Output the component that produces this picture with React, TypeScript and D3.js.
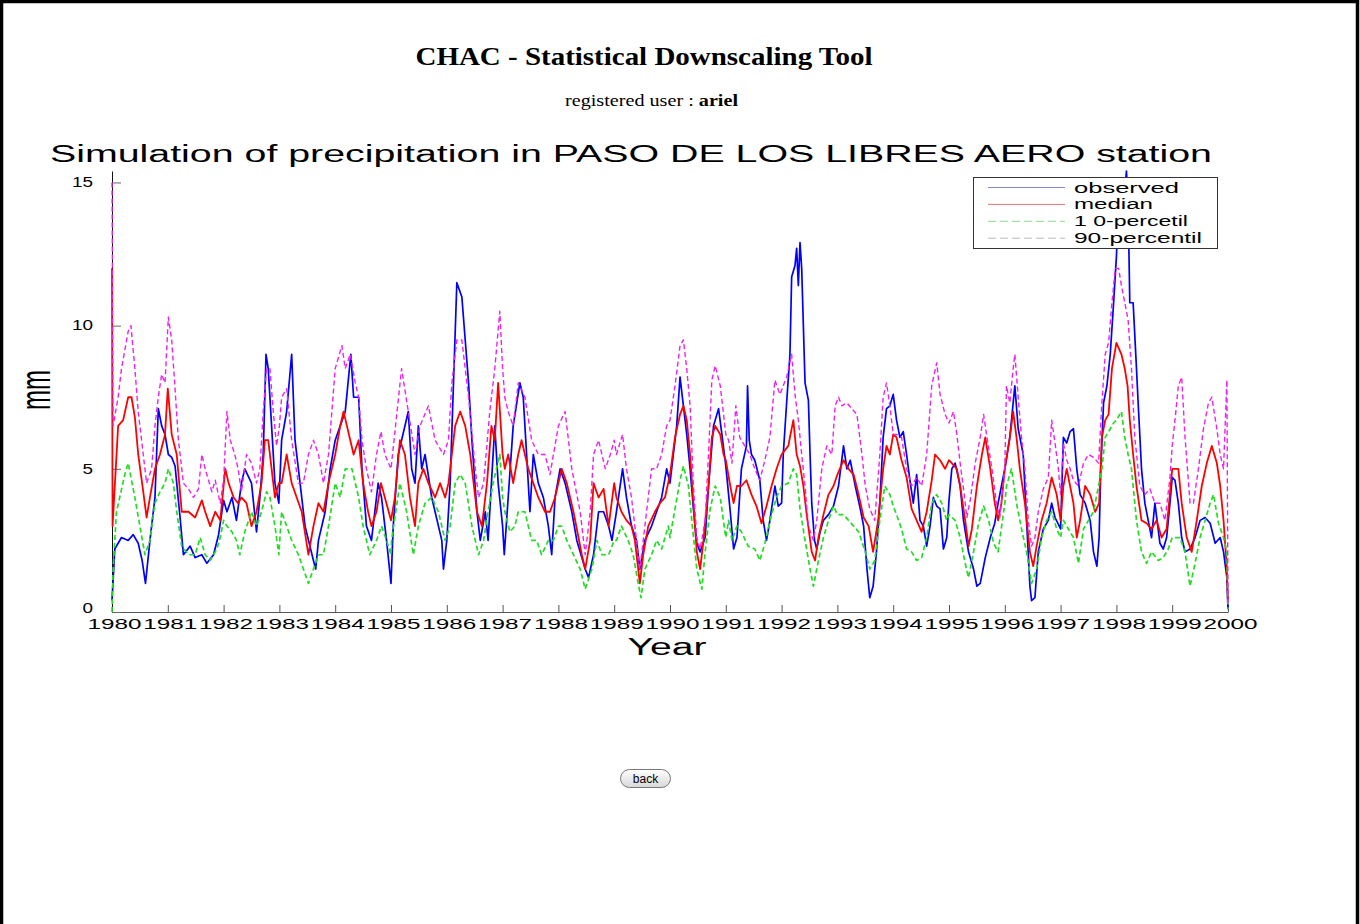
import React, { useEffect, useRef } from 'react';
import * as d3 from 'd3';

type Pt = [number, number];

// --- data: [decimal year, mm] ---
const observed: Pt[] = [
  [1980.00,0.4],[1980.05,2.2],[1980.17,2.6],[1980.29,2.5],[1980.38,2.7],[1980.47,2.4],[1980.54,1.8],[1980.60,1.0],[1980.68,2.5],[1980.77,4.0],[1980.83,7.1],[1980.89,6.5],[1980.95,6.2],
  [1981.01,5.5],[1981.07,5.4],[1981.13,5.1],[1981.22,3.3],[1981.28,2.0],[1981.40,2.3],[1981.49,1.9],[1981.61,2.0],[1981.70,1.7],[1981.82,2.0],[1981.91,2.7],
  [1982.00,3.9],[1982.06,3.5],[1982.15,4.0],[1982.23,3.2],[1982.32,4.5],[1982.38,5.0],[1982.50,4.5],[1982.59,2.8],[1982.65,4.0],[1982.71,5.5],[1982.76,9.0],[1982.80,8.5],[1982.86,6.5],[1982.92,4.5],
  [1982.99,3.8],[1983.04,6.0],[1983.13,7.0],[1983.22,9.0],[1983.28,6.0],[1983.37,4.5],[1983.46,3.0],[1983.61,1.8],[1983.65,1.5],[1983.70,2.5],[1983.82,3.5],[1983.91,5.0],
  [1984.00,6.0],[1984.09,6.5],[1984.18,7.0],[1984.28,9.0],[1984.33,7.5],[1984.42,7.5],[1984.48,5.0],[1984.56,3.0],[1984.65,2.5],[1984.77,4.5],[1984.83,4.0],[1984.92,2.5],
  [1985.00,1.0],[1985.04,3.0],[1985.13,5.5],[1985.31,7.0],[1985.37,5.0],[1985.43,4.5],[1985.49,6.5],[1985.55,5.0],[1985.61,5.5],[1985.73,4.0],[1985.79,3.5],[1985.91,2.5],[1985.94,1.5],
  [1986.00,2.5],[1986.06,4.5],[1986.12,8.0],[1986.18,11.5],[1986.27,11.0],[1986.33,9.5],[1986.39,8.0],[1986.45,6.0],[1986.54,3.5],[1986.60,2.5],[1986.69,3.5],[1986.74,2.5],[1986.80,4.5],[1986.86,6.5],[1986.92,4.5],
  [1987.00,3.0],[1987.03,2.0],[1987.10,4.0],[1987.19,6.5],[1987.31,8.0],[1987.37,7.5],[1987.43,5.5],[1987.49,3.5],[1987.55,5.5],[1987.64,4.5],[1987.73,4.0],[1987.82,3.0],[1987.88,2.0],[1987.94,4.0],
  [1988.03,5.0],[1988.12,4.5],[1988.24,3.5],[1988.33,2.5],[1988.48,1.5],[1988.54,1.2],[1988.63,2.0],[1988.72,3.5],[1988.81,3.5],[1988.90,3.0],[1988.96,2.5],
  [1989.04,3.5],[1989.15,5.0],[1989.22,4.0],[1989.31,3.0],[1989.40,2.5],[1989.46,1.5],[1989.55,2.5],[1989.67,3.0],[1989.76,3.5],[1989.85,4.0],[1989.94,5.0],
  [1990.00,4.5],[1990.06,5.5],[1990.12,6.5],[1990.18,8.2],[1990.24,7.2],[1990.30,6.2],[1990.36,5.0],[1990.42,3.6],[1990.48,2.4],[1990.54,2.1],[1990.63,2.6],[1990.69,4.4],[1990.78,6.5],[1990.87,7.1],[1990.93,6.2],
  [1991.00,5.1],[1991.08,3.5],[1991.14,2.2],[1991.20,2.6],[1991.28,5.0],[1991.37,5.8],[1991.39,7.9],[1991.42,6.0],[1991.46,5.5],[1991.52,5.3],[1991.61,4.6],[1991.67,3.2],[1991.73,2.5],[1991.79,3.2],[1991.88,4.4],[1991.94,3.7],
  [1992.00,3.8],[1992.03,5.5],[1992.09,7.3],[1992.15,9.0],[1992.18,11.7],[1992.24,12.1],[1992.27,12.7],[1992.30,11.4],[1992.33,12.9],[1992.36,12.0],[1992.39,10.0],[1992.42,8.0],[1992.48,7.4],[1992.51,5.5],[1992.54,3.8],[1992.59,2.5],[1992.63,2.2],[1992.69,2.8],[1992.75,3.2],[1992.84,3.4],[1992.93,3.7],
  [1993.02,4.4],[1993.11,5.8],[1993.17,5.0],[1993.23,5.3],[1993.32,4.4],[1993.41,3.6],[1993.47,3.0],[1993.53,1.5],[1993.58,0.5],[1993.64,0.9],[1993.70,2.1],[1993.76,3.8],[1993.82,6.1],[1993.88,7.1],[1993.94,7.2],
  [1994.00,7.6],[1994.06,6.7],[1994.12,6.1],[1994.18,6.3],[1994.24,5.5],[1994.30,4.6],[1994.36,3.8],[1994.42,4.8],[1994.48,3.2],[1994.54,3.0],[1994.60,2.3],[1994.66,3.0],[1994.72,4.0],[1994.78,3.7],[1994.84,3.6],[1994.90,2.2],[1994.96,2.6],
  [1995.00,3.9],[1995.05,5.0],[1995.11,5.2],[1995.20,4.4],[1995.26,3.2],[1995.35,2.1],[1995.44,1.5],[1995.50,0.9],[1995.56,1.0],[1995.65,1.9],[1995.74,2.6],[1995.82,3.1],[1995.88,3.8],[1995.94,4.4],
  [1996.00,5.0],[1996.09,6.1],[1996.15,7.3],[1996.18,7.9],[1996.24,6.4],[1996.33,5.5],[1996.39,3.2],[1996.45,0.9],[1996.48,0.4],[1996.54,0.5],[1996.60,2.1],[1996.69,2.9],[1996.78,3.2],[1996.84,3.8],[1996.90,3.3],
  [1997.00,2.9],[1997.05,6.1],[1997.11,5.9],[1997.17,6.3],[1997.23,6.4],[1997.29,5.0],[1997.35,4.1],[1997.44,3.8],[1997.53,3.2],[1997.59,2.1],[1997.65,1.6],[1997.69,2.6],[1997.72,5.0],[1997.77,7.3],[1997.83,7.9],[1997.89,9.0],[1997.95,10.8],
  [1998.00,12.4],[1998.04,14.3],[1998.07,13.7],[1998.12,14.1],[1998.18,15.4],[1998.21,14.3],[1998.24,10.8],[1998.30,10.8],[1998.36,8.5],[1998.39,7.3],[1998.45,5.0],[1998.51,3.8],[1998.57,3.2],[1998.63,2.6],[1998.69,3.8],[1998.78,2.4],[1998.84,2.2],[1998.90,2.6],[1998.96,3.8],
  [1999.00,4.7],[1999.05,4.6],[1999.11,3.8],[1999.17,2.6],[1999.23,2.1],[1999.32,2.2],[1999.41,2.6],[1999.50,3.2],[1999.59,3.3],[1999.68,3.1],[1999.77,2.4],[1999.86,2.6],[1999.92,2.1],[1999.98,1.2],[2000.00,0.1],
];

const median: Pt[] = [
  [1980.00,12.0],[1980.01,3.0],[1980.11,6.5],[1980.20,6.7],[1980.29,7.5],[1980.35,7.5],[1980.41,6.8],[1980.47,5.5],[1980.56,4.2],[1980.62,3.3],[1980.68,4.0],[1980.77,5.0],[1980.86,5.5],[1980.95,6.2],
  [1981.00,7.8],[1981.07,6.2],[1981.16,5.5],[1981.25,3.5],[1981.37,3.5],[1981.49,3.3],[1981.61,3.9],[1981.67,3.5],[1981.76,3.0],[1981.85,3.5],[1981.94,3.2],
  [1982.03,5.0],[1982.09,4.5],[1982.18,4.0],[1982.26,3.8],[1982.32,4.0],[1982.41,3.8],[1982.50,3.0],[1982.59,3.5],[1982.68,4.5],[1982.74,6.0],[1982.80,6.0],[1982.86,5.0],[1982.92,4.0],
  [1982.99,4.5],[1983.04,4.5],[1983.13,5.5],[1983.22,4.5],[1983.31,4.0],[1983.40,3.5],[1983.52,2.0],[1983.61,3.0],[1983.70,3.8],[1983.79,3.5],[1983.88,4.5],
  [1984.00,5.5],[1984.09,6.5],[1984.15,7.0],[1984.21,6.5],[1984.27,6.0],[1984.33,5.5],[1984.42,6.0],[1984.50,4.5],[1984.59,3.5],[1984.65,3.0],[1984.74,3.5],[1984.82,4.5],[1984.89,4.0],
  [1985.00,3.2],[1985.07,4.0],[1985.16,6.0],[1985.25,5.5],[1985.34,4.0],[1985.43,3.0],[1985.49,4.5],[1985.58,5.0],[1985.67,4.5],[1985.79,4.0],[1985.88,4.5],[1985.97,4.0],
  [1986.03,4.5],[1986.15,6.5],[1986.24,7.0],[1986.33,6.5],[1986.42,5.5],[1986.48,4.5],[1986.54,3.5],[1986.63,3.0],[1986.72,4.5],[1986.80,6.5],[1986.86,6.0],[1986.92,8.0],
  [1987.00,5.5],[1987.04,5.0],[1987.10,5.5],[1987.19,4.5],[1987.28,5.5],[1987.34,6.0],[1987.46,5.0],[1987.55,4.5],[1987.64,4.0],[1987.76,3.5],[1987.85,3.5],[1987.94,4.0],
  [1988.00,4.5],[1988.06,5.0],[1988.15,4.5],[1988.27,3.5],[1988.42,2.0],[1988.48,1.5],[1988.57,2.5],[1988.63,4.5],[1988.72,4.0],[1988.81,4.3],[1988.90,3.0],
  [1989.00,4.5],[1989.04,4.0],[1989.13,3.5],[1989.22,3.2],[1989.31,3.0],[1989.37,2.5],[1989.46,1.0],[1989.52,2.0],[1989.61,3.0],[1989.73,3.5],[1989.82,3.8],[1989.91,4.0],
  [1990.00,4.8],[1990.09,6.1],[1990.18,6.9],[1990.24,7.2],[1990.30,6.7],[1990.36,5.5],[1990.42,3.8],[1990.48,2.1],[1990.54,1.5],[1990.60,2.5],[1990.69,4.4],[1990.75,6.1],[1990.81,6.5],[1990.90,6.2],[1990.96,5.5],
  [1991.00,5.3],[1991.08,4.4],[1991.14,3.8],[1991.20,4.4],[1991.28,4.4],[1991.37,4.6],[1991.46,4.1],[1991.55,3.7],[1991.64,3.1],[1991.73,3.7],[1991.82,4.4],[1991.91,5.0],
  [1992.00,5.5],[1992.12,5.8],[1992.21,6.7],[1992.27,5.5],[1992.33,5.1],[1992.39,4.4],[1992.45,3.4],[1992.54,2.1],[1992.60,1.8],[1992.66,2.6],[1992.75,3.4],[1992.84,4.1],[1992.93,4.4],
  [1993.00,4.8],[1993.11,5.3],[1993.20,5.0],[1993.29,4.8],[1993.38,4.1],[1993.47,3.3],[1993.56,3.0],[1993.64,2.1],[1993.73,3.2],[1993.82,5.0],[1993.88,5.8],[1993.94,5.5],
  [1994.00,6.2],[1994.06,6.1],[1994.15,5.3],[1994.24,4.7],[1994.33,3.6],[1994.42,3.2],[1994.51,2.8],[1994.60,3.5],[1994.69,4.6],[1994.75,5.5],[1994.84,5.3],[1994.93,5.0],
  [1995.00,5.3],[1995.05,5.2],[1995.14,5.0],[1995.20,4.4],[1995.29,3.2],[1995.35,2.3],[1995.41,2.9],[1995.50,4.4],[1995.59,5.5],[1995.65,6.1],[1995.74,5.0],[1995.82,3.8],[1995.88,3.2],[1995.94,3.8],
  [1996.00,5.0],[1996.09,6.1],[1996.15,7.0],[1996.21,6.1],[1996.27,5.0],[1996.36,3.8],[1996.45,2.1],[1996.51,1.6],[1996.57,2.3],[1996.66,3.2],[1996.75,3.8],[1996.84,4.7],[1996.93,4.1],
  [1997.00,3.2],[1997.05,4.4],[1997.11,5.0],[1997.17,4.4],[1997.23,3.8],[1997.29,2.6],[1997.35,3.2],[1997.44,4.4],[1997.53,4.1],[1997.62,3.5],[1997.69,3.8],[1997.74,6.1],[1997.80,6.7],[1997.86,6.9],[1997.92,8.5],
  [1998.00,9.4],[1998.09,9.0],[1998.15,8.5],[1998.20,7.9],[1998.24,6.7],[1998.30,5.5],[1998.36,4.4],[1998.45,3.2],[1998.54,3.1],[1998.63,2.9],[1998.72,3.2],[1998.81,2.6],[1998.90,2.9],
  [1999.00,5.0],[1999.11,5.0],[1999.17,3.8],[1999.26,2.6],[1999.35,2.1],[1999.44,3.2],[1999.53,4.4],[1999.62,5.2],[1999.71,5.8],[1999.80,5.2],[1999.86,4.4],[1999.92,3.2],[1999.98,1.5],[2000.00,0.3],
];

const pct10: Pt[] = [
  [1980.00,0.0],[1980.02,1.5],[1980.08,3.5],[1980.23,4.8],[1980.29,5.2],[1980.41,4.0],[1980.50,3.0],[1980.59,2.0],[1980.68,2.5],[1980.77,3.8],[1980.86,4.2],[1980.95,4.5],
  [1981.01,5.0],[1981.10,4.5],[1981.16,3.5],[1981.25,2.3],[1981.37,2.0],[1981.49,2.0],[1981.58,2.6],[1981.67,2.0],[1981.76,1.8],[1981.88,2.2],[1981.94,2.6],
  [1982.00,3.2],[1982.06,3.0],[1982.15,2.8],[1982.23,2.5],[1982.29,2.0],[1982.38,2.8],[1982.50,3.5],[1982.59,3.0],[1982.68,3.5],[1982.77,4.2],[1982.83,4.0],[1982.92,3.0],
  [1982.99,2.0],[1983.04,3.5],[1983.13,3.0],[1983.22,2.5],[1983.34,2.0],[1983.52,1.0],[1983.61,1.5],[1983.70,2.0],[1983.79,2.0],[1983.88,3.0],
  [1984.00,4.5],[1984.09,4.0],[1984.18,5.0],[1984.30,5.0],[1984.42,4.0],[1984.50,3.0],[1984.62,2.0],[1984.74,2.5],[1984.83,3.0],[1984.92,2.5],
  [1985.00,2.0],[1985.01,2.5],[1985.16,4.5],[1985.28,3.5],[1985.40,2.0],[1985.49,3.0],[1985.61,3.8],[1985.73,4.0],[1985.85,3.5],[1985.97,2.5],
  [1986.06,3.0],[1986.15,4.5],[1986.24,4.8],[1986.33,4.5],[1986.45,3.0],[1986.57,2.0],[1986.66,2.5],[1986.74,3.5],[1986.83,4.5],[1986.95,5.5],
  [1987.00,4.0],[1987.04,3.5],[1987.13,2.8],[1987.22,3.0],[1987.28,3.5],[1987.40,3.5],[1987.52,2.5],[1987.61,2.5],[1987.70,2.0],[1987.82,2.5],[1987.91,2.5],
  [1988.00,3.0],[1988.06,3.0],[1988.15,2.5],[1988.27,2.0],[1988.39,1.5],[1988.48,0.8],[1988.60,1.5],[1988.69,2.5],[1988.78,2.0],[1988.90,2.0],
  [1989.00,2.5],[1989.04,2.5],[1989.13,3.0],[1989.25,2.5],[1989.34,2.0],[1989.43,1.0],[1989.48,0.5],[1989.55,1.5],[1989.67,2.0],[1989.76,2.5],[1989.85,2.2],[1989.97,3.0],
  [1990.00,2.6],[1990.09,3.6],[1990.18,4.6],[1990.24,5.1],[1990.33,4.4],[1990.39,3.2],[1990.48,1.5],[1990.57,0.8],[1990.63,2.1],[1990.72,3.6],[1990.81,4.4],[1990.90,4.0],
  [1991.00,2.6],[1991.05,3.2],[1991.11,2.5],[1991.20,3.0],[1991.28,2.8],[1991.40,2.3],[1991.52,2.2],[1991.61,1.8],[1991.70,2.4],[1991.82,3.4],[1991.91,4.0],
  [1992.00,4.4],[1992.12,4.5],[1992.21,5.0],[1992.27,4.8],[1992.33,3.6],[1992.42,2.5],[1992.51,1.5],[1992.57,0.9],[1992.66,1.8],[1992.75,2.6],[1992.84,3.2],[1992.93,3.7],
  [1993.00,3.4],[1993.11,3.4],[1993.20,3.2],[1993.29,3.0],[1993.38,2.8],[1993.50,2.1],[1993.58,1.5],[1993.67,1.8],[1993.76,3.2],[1993.85,4.4],[1993.94,4.1],
  [1994.00,3.7],[1994.06,3.4],[1994.15,2.9],[1994.24,2.2],[1994.33,2.1],[1994.42,1.8],[1994.51,1.9],[1994.60,2.6],[1994.69,3.8],[1994.78,4.1],[1994.87,3.8],[1994.96,3.2],
  [1995.00,3.4],[1995.11,3.2],[1995.20,2.6],[1995.29,1.7],[1995.35,1.2],[1995.44,2.1],[1995.53,3.1],[1995.62,3.7],[1995.71,3.2],[1995.80,2.4],[1995.88,2.1],
  [1996.00,3.8],[1996.03,4.4],[1996.12,5.0],[1996.21,3.8],[1996.30,2.9],[1996.39,2.1],[1996.48,1.0],[1996.57,1.5],[1996.66,2.6],[1996.75,3.2],[1996.84,3.5],[1996.93,2.9],
  [1997.00,2.6],[1997.05,3.2],[1997.14,2.9],[1997.23,2.6],[1997.32,1.7],[1997.41,2.9],[1997.50,3.2],[1997.59,3.5],[1997.68,4.4],[1997.74,5.0],[1997.80,6.1],[1997.89,6.4],[1997.95,6.6],
  [1998.00,6.7],[1998.09,7.0],[1998.15,6.1],[1998.21,5.5],[1998.27,5.0],[1998.36,3.2],[1998.45,2.1],[1998.54,1.7],[1998.63,2.1],[1998.75,1.8],[1998.84,1.9],[1998.93,2.2],
  [1999.00,2.6],[1999.14,2.6],[1999.23,2.1],[1999.32,0.9],[1999.41,1.7],[1999.50,2.6],[1999.59,3.2],[1999.68,3.8],[1999.74,4.1],[1999.83,3.1],[1999.92,2.6],[1999.98,2.1],[2000.00,0.1],
];

const pct90: Pt[] = [
  [1980.00,15.0],[1980.02,6.5],[1980.11,7.5],[1980.17,8.5],[1980.29,9.8],[1980.34,10.0],[1980.41,8.5],[1980.47,7.0],[1980.56,5.5],[1980.62,4.5],[1980.71,5.0],[1980.77,6.5],[1980.83,7.5],[1980.89,8.3],[1980.95,8.0],
  [1981.01,10.3],[1981.07,9.5],[1981.13,7.8],[1981.19,6.0],[1981.28,4.5],[1981.37,4.3],[1981.46,4.0],[1981.55,4.3],[1981.61,5.5],[1981.67,5.0],[1981.79,4.2],[1981.85,4.6],[1981.94,3.8],
  [1982.00,4.6],[1982.06,7.0],[1982.12,6.0],[1982.20,5.5],[1982.26,5.0],[1982.32,4.2],[1982.41,5.5],[1982.50,5.2],[1982.59,4.5],[1982.65,5.0],[1982.71,7.0],[1982.77,8.5],[1982.83,8.5],[1982.89,7.0],[1982.95,5.8],
  [1983.00,6.5],[1983.04,7.5],[1983.13,7.8],[1983.22,6.0],[1983.34,4.5],[1983.43,4.5],[1983.52,5.5],[1983.61,6.0],[1983.70,5.5],[1983.79,4.5],[1983.88,5.5],[1983.94,7.0],
  [1984.00,8.5],[1984.12,9.3],[1984.18,8.5],[1984.27,9.0],[1984.36,8.0],[1984.42,7.5],[1984.48,6.0],[1984.56,5.0],[1984.65,4.2],[1984.74,5.5],[1984.82,6.3],[1984.89,5.5],
  [1985.00,5.0],[1985.19,8.5],[1985.31,7.0],[1985.43,5.5],[1985.52,6.5],[1985.67,7.2],[1985.79,6.0],[1985.94,5.5],
  [1986.03,6.0],[1986.09,8.0],[1986.18,9.5],[1986.27,9.5],[1986.39,7.5],[1986.51,5.0],[1986.57,4.0],[1986.66,4.5],[1986.77,7.0],[1986.86,8.5],[1986.95,10.5],
  [1987.00,8.5],[1987.04,7.5],[1987.10,7.0],[1987.19,6.5],[1987.28,8.0],[1987.40,7.5],[1987.52,6.0],[1987.64,5.5],[1987.76,5.5],[1987.85,4.8],
  [1988.00,6.5],[1988.12,7.0],[1988.24,5.0],[1988.39,3.5],[1988.48,2.0],[1988.57,3.5],[1988.63,5.5],[1988.72,6.0],[1988.84,5.0],[1988.93,5.5],
  [1989.00,6.0],[1989.04,5.5],[1989.15,6.2],[1989.22,5.0],[1989.31,4.0],[1989.40,2.5],[1989.46,1.5],[1989.55,3.0],[1989.67,5.0],[1989.76,5.0],[1989.85,5.5],[1989.94,6.5],
  [1990.00,6.7],[1990.09,7.9],[1990.18,9.3],[1990.24,9.5],[1990.30,8.5],[1990.36,7.2],[1990.42,4.4],[1990.48,2.6],[1990.54,2.2],[1990.63,3.2],[1990.69,5.5],[1990.75,8.1],[1990.81,8.6],[1990.90,7.9],[1990.96,6.9],
  [1991.00,6.2],[1991.05,6.0],[1991.11,5.2],[1991.18,7.2],[1991.25,6.1],[1991.34,5.8],[1991.43,5.5],[1991.52,5.0],[1991.61,4.6],[1991.70,5.3],[1991.79,6.1],[1991.88,8.1],[1991.97,7.6],
  [1992.03,7.9],[1992.09,8.2],[1992.18,9.0],[1992.24,7.6],[1992.30,6.7],[1992.36,5.5],[1992.42,4.4],[1992.48,3.0],[1992.57,2.5],[1992.63,3.2],[1992.72,5.0],[1992.81,5.8],[1992.90,5.5],[1992.96,7.2],
  [1993.02,7.5],[1993.08,7.2],[1993.17,7.3],[1993.26,7.1],[1993.35,6.9],[1993.44,5.5],[1993.50,4.4],[1993.58,3.6],[1993.67,3.2],[1993.76,5.5],[1993.82,7.5],[1993.88,8.0],[1993.94,7.2],
  [1994.00,6.2],[1994.06,6.2],[1994.15,6.1],[1994.24,5.0],[1994.33,4.4],[1994.42,4.7],[1994.51,4.4],[1994.60,5.5],[1994.69,7.9],[1994.78,8.7],[1994.84,7.6],[1994.93,6.9],
  [1995.00,6.6],[1995.08,7.0],[1995.14,6.2],[1995.20,5.2],[1995.26,4.3],[1995.32,3.3],[1995.38,3.9],[1995.47,5.2],[1995.56,6.1],[1995.62,6.9],[1995.68,6.1],[1995.77,5.0],[1995.85,3.8],[1995.91,3.3],
  [1996.00,5.0],[1996.03,7.9],[1996.09,7.3],[1996.15,8.5],[1996.18,9.0],[1996.24,7.5],[1996.30,6.1],[1996.36,5.0],[1996.42,3.2],[1996.48,2.3],[1996.54,2.6],[1996.60,3.5],[1996.69,4.3],[1996.78,4.7],[1996.84,6.7],[1996.90,5.9],[1996.96,5.0],
  [1997.00,4.1],[1997.05,5.9],[1997.11,5.3],[1997.17,5.0],[1997.23,4.6],[1997.32,4.4],[1997.41,5.2],[1997.50,5.5],[1997.59,5.4],[1997.68,5.2],[1997.74,7.3],[1997.80,9.0],[1997.86,9.4],[1997.92,10.8],[1997.98,12.0],
  [1998.04,12.0],[1998.09,11.4],[1998.15,10.8],[1998.21,10.2],[1998.27,8.5],[1998.33,6.1],[1998.42,4.4],[1998.51,4.1],[1998.60,4.3],[1998.69,3.8],[1998.78,3.8],[1998.87,3.2],[1998.96,4.7],
  [1999.00,5.8],[1999.05,6.7],[1999.11,7.9],[1999.17,8.2],[1999.23,6.1],[1999.32,3.8],[1999.38,3.8],[1999.47,5.0],[1999.56,6.4],[1999.65,7.3],[1999.71,7.5],[1999.80,6.4],[1999.86,5.5],[1999.92,5.0],[1999.98,8.1],[2000.00,0.2],
];

const yTicks = [0, 5, 10, 15];
const yearTicks = [1980, 1981, 1982, 1983, 1984, 1985, 1986, 1987, 1988, 1989, 1990, 1991, 1992, 1993, 1994, 1995, 1996, 1997, 1998, 1999, 2000];
const legendLabels = ['observed', 'median', '1 0-percetil', '90-percentil'];
const legendWidths = [105, 79, 114, 128];

const SANS = '"Liberation Sans", Arial, Helvetica, sans-serif';
const SERIF = '"Liberation Serif", "Times New Roman", serif';

const App = () => {
  const svgRef = useRef<SVGSVGElement>(null);

  useEffect(() => {
    if (!svgRef.current) return;
    const svg = d3.select(svgRef.current);
    svg.selectAll('*').remove();

    // page frame of the screenshot
    svg.append('path').attr('d', 'M1.5,930 V1.5 H1357.5 V930').attr('fill', 'none').attr('stroke', '#000').attr('stroke-width', 3.5);

    // page header
    svg.append('text').attr('x', 644).attr('y', 65).attr('text-anchor', 'middle')
      .attr('font-family', SERIF).attr('font-weight', 'bold').attr('font-size', 26)
      .attr('textLength', 457).attr('lengthAdjust', 'spacingAndGlyphs')
      .text('CHAC - Statistical Downscaling Tool');
    const user = svg.append('text').attr('x', 565).attr('y', 106).attr('font-family', SERIF).attr('font-size', 16)
      .attr('textLength', 173).attr('lengthAdjust', 'spacingAndGlyphs');
    user.append('tspan').text('registered user : ');
    user.append('tspan').attr('font-weight', 'bold').text('ariel');

    // --- chart ---
    const x = d3.scaleLinear().domain([1980, 2000]).range([112, 1228]);
    const y = d3.scaleLinear().domain([0, 15.4]).range([612, 171]);

    svg.append('text').attr('x', 50).attr('y', 162).attr('font-family', SANS).attr('font-size', 23)
      .attr('textLength', 1162).attr('lengthAdjust', 'spacingAndGlyphs')
      .text('Simulation of precipitation in PASO DE LOS LIBRES AERO station');

    // axes
    const gx = svg.append('g').attr('transform', `translate(0,${y(0)})`)
      .call(d3.axisBottom(x).tickValues(yearTicks).tickSizeInner(-7).tickSizeOuter(0).tickFormat(d3.format('d')));
    gx.select('.domain').attr('stroke', '#555');
    gx.selectAll('.tick line').attr('stroke', '#555');
    gx.selectAll('.tick text').attr('x', 2).attr('y', 17).attr('dy', 0).attr('fill', '#000')
      .attr('font-family', SANS).attr('font-size', 14)
      .attr('textLength', 54).attr('lengthAdjust', 'spacingAndGlyphs');

    const gy = svg.append('g').attr('transform', `translate(${x(1980)},0)`)
      .call(d3.axisLeft(y).tickValues(yTicks).tickSizeInner(-9).tickSizeOuter(0).tickFormat(d3.format('d')));
    gy.select('.domain').attr('stroke', '#111');
    gy.selectAll('.tick line').attr('stroke', '#666');
    gy.selectAll('.tick text').attr('x', -19).attr('dy', '0.3em').attr('fill', '#000')
      .attr('font-family', SANS).attr('font-size', 14)
      .attr('textLength', (d: any) => (String(d).length * 10.5)).attr('lengthAdjust', 'spacingAndGlyphs');
    // lift the "0" label a touch so it clears the year labels, as in the original
    gy.selectAll('.tick text').filter((d: any) => d === 0).attr('dy', '0.05em');

    svg.append('text').attr('x', 667).attr('y', 655).attr('text-anchor', 'middle')
      .attr('font-family', SANS).attr('font-size', 23)
      .attr('textLength', 79).attr('lengthAdjust', 'spacingAndGlyphs').text('Year');

    svg.append('text').attr('transform', 'translate(50,390) scale(1.75,1) rotate(-90)')
      .attr('text-anchor', 'middle').attr('font-family', SANS).attr('font-size', 24).text('mm');

    // series
    const line = d3.line<Pt>().x(d => x(d[0])).y(d => y(d[1]));
    const series = [
      { data: observed, color: '#0000ff', width: 1.7, dash: null },
      { data: median, color: '#ff0000', width: 1.8, dash: null },
      { data: pct10, color: '#22dd22', width: 1.7, dash: '5,3' },
      { data: pct90, color: '#ee22ee', width: 1.4, dash: '5,3' },
    ];
    series.forEach(s => {
      svg.append('path').datum(s.data).attr('d', line).attr('fill', 'none')
        .attr('stroke', s.color).attr('stroke-width', s.width)
        .attr('stroke-dasharray', s.dash).attr('stroke-linejoin', 'round');
    });

    // legend
    const lg = svg.append('g');
    lg.append('rect').attr('x', 973.5).attr('y', 177.5).attr('width', 244).attr('height', 71)
      .attr('fill', '#fff').attr('stroke', '#333').attr('stroke-width', 1);
    const legendColors = ['#8888dd', '#dd7777', '#88dd88', '#bbbbbb'];
    legendLabels.forEach((label, i) => {
      const cy = 187.5 + i * 16.9;
      lg.append('line').attr('x1', 988).attr('x2', 1065).attr('y1', cy).attr('y2', cy)
        .attr('stroke', legendColors[i]).attr('stroke-width', 1)
        .attr('stroke-dasharray', i >= 2 ? '8,4' : null);
      lg.append('text').attr('x', 1074).attr('y', cy + 5).attr('font-family', SANS).attr('font-size', 14)
        .attr('textLength', legendWidths[i]).attr('lengthAdjust', 'spacingAndGlyphs').text(label);
    });

    // back button
    const defs = svg.append('defs');
    const grad = defs.append('linearGradient').attr('id', 'btn').attr('x1', 0).attr('y1', 0).attr('x2', 0).attr('y2', 1);
    grad.append('stop').attr('offset', '0%').attr('stop-color', '#ffffff');
    grad.append('stop').attr('offset', '100%').attr('stop-color', '#d8d8d8');
    svg.append('rect').attr('x', 620.5).attr('y', 769.5).attr('width', 50).attr('height', 18).attr('rx', 9)
      .attr('fill', 'url(#btn)').attr('stroke', '#777');
    svg.append('text').attr('x', 645.5).attr('y', 783).attr('text-anchor', 'middle')
      .attr('font-family', SANS).attr('font-size', 12).text('back');
  }, []);

  return (
    <div style={{ position: 'absolute', left: 0, top: 0, background: '#fff' }}>
      <svg ref={svgRef} width={1360} height={924} style={{ display: 'block' }} />
    </div>
  );
};

export default App;
